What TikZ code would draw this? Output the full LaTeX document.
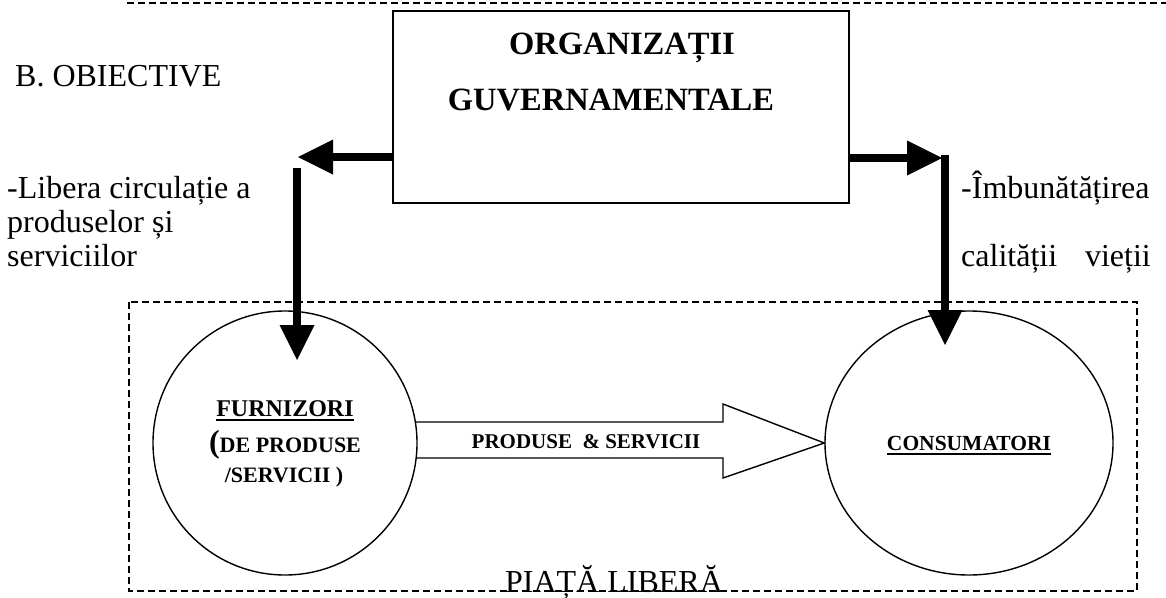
\documentclass[tikz,border=0pt]{standalone}
\usepackage{fontspec}
\setmainfont{Liberation Serif}
\usetikzlibrary{arrows.meta,shapes.geometric}
\newcommand\fsz[1]{\fontsize{#1}{#1}\selectfont}
\begin{document}
\begin{tikzpicture}[x=1pt,y=-1pt,
  frame/.style={draw, dash pattern=on 7pt off 4pt, line width=1.4pt},
  orgbox/.style={draw, line width=1.3pt, minimum width=456pt, minimum height=192pt, inner sep=0pt},
  party/.style={draw, line width=1.4pt, inner sep=0pt},
  thickarrow/.style={line width=8pt, -{Triangle[length=35pt,width=35pt,line width=0pt]}},
  plain/.style={inner sep=0pt, anchor=base west, font=\fsz{32}},
  title/.style={inner sep=0pt, anchor=base, font=\fsz{32.5}\bfseries},
  label/.style={inner sep=0pt, anchor=base, font=\fsz{#1}\bfseries},
  uline/.style={line width=2pt}
]
\useasboundingbox (0,0) rectangle (1166,597);

% dashed frames
\draw[frame] (127,3) -- (1166,3);
\draw[frame] (129,302) rectangle (1137,591);

% government box
\node[orgbox] (org) at (621,107) {};
\node[title] (orgA) at (622,54) {ORGANIZAȚII};
\node[title] (orgB) at (611,110) {GUVERNAMENTALE};

% market participants
\node[party, circle, minimum size=264pt] (furn) at (285,443) {};
\node[party, ellipse, minimum width=288pt, minimum height=264pt] (cons) at (969,443) {};

\node[label=24] (furnA) at (285,416) {FURNIZORI};
\draw[uline] ([yshift=-4pt]furnA.base west) -- ([yshift=-4pt]furnA.base east);
\node[label=22] (furnB) at (285,452) {{\fsz{32}(}DE PRODUSE};
\node[label=22] (furnC) at (284,482) {/SERVICII )};

\node[label=21.5] (consA) at (969,450) {CONSUMATORI};
\draw[uline] ([yshift=-3.5pt]consA.base west) -- ([yshift=-3.5pt]consA.base east);

% flow of goods and services
\draw[line width=1.4pt, line join=miter]
  (416,422) -- (723,422) -- (723,404) -- (cons.west) -- (723,478) -- (723,458) -- (416,458);
\node[label=21] (flow) at (586,448) {PRODUSE \ \& SERVICII};

% objective arrows
\coordinate (ltip) at (298,157);
\coordinate (lstart) at (297,168);
\coordinate (ldown) at (297,360);
\coordinate (rtip) at (942,158);
\coordinate (rstart) at (945,155);
\coordinate (rdown) at (945,345);
\draw[thickarrow] ([yshift=-50pt]org.west) -- (ltip);
\draw[thickarrow] ([yshift=-51pt]org.east) -- (rtip);
\draw[thickarrow] (lstart) -- (ldown);
\draw[thickarrow] (rstart) -- (rdown);

% texts
\node[plain] (obj) at (15,86) {B. OBIECTIVE};
\node[plain] (l1) at (7,198) {-Libera circulație a};
\node[plain] (l2) at (7,232) {produselor și};
\node[plain] (l3) at (7,266) {serviciilor};
\node[plain] (r1) at (961,198) {-Îmbunătățirea};
\node[plain] (r2) at (961,266) {calității};
\node[plain, anchor=base east] (r3) at (1151,266) {vieții};

\node[inner sep=0pt, anchor=base, font=\fsz{32}] (market) at (614,592) {PIAȚĂ LIBERĂ};
\end{tikzpicture}
\end{document}
